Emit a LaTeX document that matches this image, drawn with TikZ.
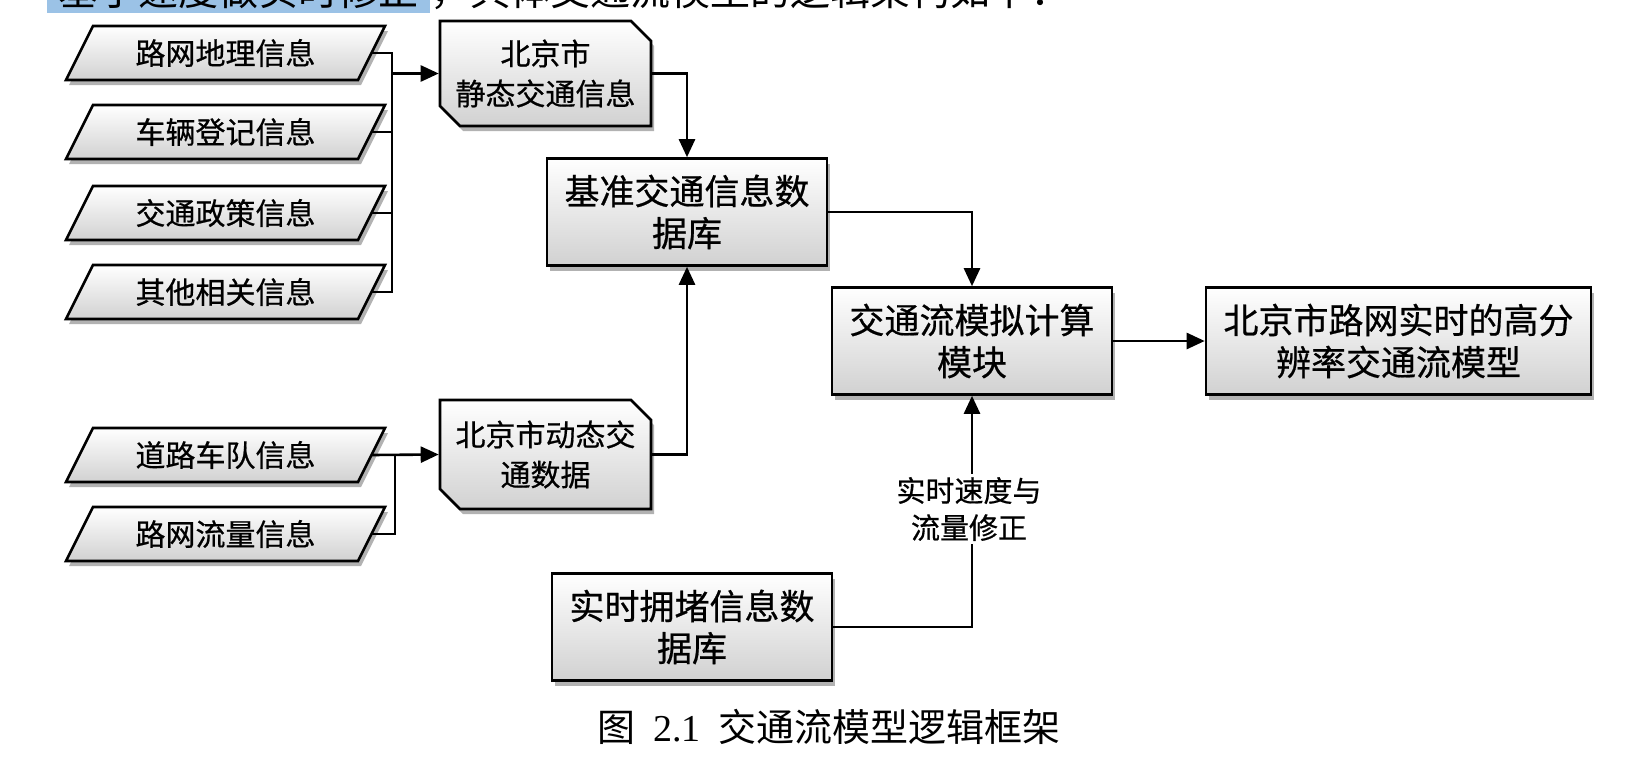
\documentclass[tikz,border=0pt]{standalone}
\usepackage{fontspec}
\newfontfamily\cjk{Noto Sans CJK SC}
\newfontfamily\cjkb[FakeBold=0.6]{Noto Sans CJK SC}
\newfontfamily\tnr{Liberation Serif}
\usetikzlibrary{arrows.meta,shadows,calc}
\definecolor{hl}{RGB}{155,194,230}
\tikzset{
  boxfill/.style={draw=black, line width=2.6pt, top color=white, bottom color=black!18,
    drop shadow={shadow xshift=3pt, shadow yshift=-5pt, opacity=0.3, fill=black}},
  txt/.style={font=\cjkb\fontsize{30}{40}\selectfont, align=center, inner sep=0pt, outer sep=1.3pt},
  bigbox/.style={boxfill, rectangle, font=\cjkb\fontsize{35}{42}\selectfont, align=center,
    inner sep=0pt, outer sep=1.3pt, minimum width=280pt, minimum height=107pt},
  conn/.style={line width=2.6pt, draw=black},
  arr/.style={conn, -{Triangle[length=18pt,width=16pt]}},
}
\newcommand\mypara[3]{%
  \path[boxfill] (66,#2+27) -- (93,#2-27) -- (385,#2-27) -- (358,#2+27) -- cycle;
  \node[txt] (#1) at (225.5,#2) {#3};
  \coordinate (#1e) at (371.5,#2);
}
\newcommand\mycard[6]{%
  \path[boxfill] (#2,#3) -- (#4-20,#3) -- (#4,#3+20) -- (#4,#5) -- (#2+20,#5) -- (#2,#5-20) -- cycle;
  \node[txt, minimum width={(#4-#2)*1pt}, minimum height={(#5-#3)*1pt}] (#1) at ({(#2+#4)/2},{(#3+#5)/2}) {#6};
}
\begin{document}
\begin{tikzpicture}[x=1pt,y=-1pt]
\useasboundingbox[fill=white] (0,0) rectangle (1652,777);

% cut-off line of body text at the top
\begin{scope}
\clip (0,0) rectangle (1652,777);
\node[fill=hl, inner sep=0pt, anchor=base west, font=\cjk\fontsize{40}{40}\selectfont,
  minimum width=383pt, text depth=8pt] (hltext) at (47,5) {基于速度做实时修正};
\node[anchor=base west, inner sep=0pt, font=\cjk\fontsize{40}{40}\selectfont] (intro)
  at (hltext.base east) {，具体交通流模型的逻辑架构如下：};
\end{scope}

% input parallelograms
\mypara{p1}{53}{路网地理信息}
\mypara{p2}{132}{车辆登记信息}
\mypara{p3}{213}{交通政策信息}
\mypara{p4}{292}{其他相关信息}
\mypara{p5}{455}{道路车队信息}
\mypara{p6}{534}{路网流量信息}

% cards
\mycard{c1}{440}{21}{651}{126}{北京市\\静态交通信息}
\mycard{c2}{440}{400}{651}{509}{北京市动态交\\通数据}

% boxes
\node[bigbox] (db) at (687,212) {基准交通信息数\\据库};
\node[bigbox] (sim) at (972,341) {交通流模拟计算\\模块};
\node[bigbox, minimum width=385pt] (out) at (1398.5,341) {北京市路网实时的高分\\辨率交通流模型};
\node[bigbox] (rt) at (692,627) {实时拥堵信息数\\据库};

% bracket 1
\coordinate (b1) at (392,53);
\draw[conn] (p1e) -- (b1) -- (b1 |- p4e) -- (p4e);
\draw[conn] (p2e) -- (p2e -| b1);
\draw[conn] (p3e) -- (p3e -| b1);
\draw[arr] (b1 |- c1.west) -- (c1.west);

% bracket 2
\coordinate (b2) at (395,455);
\draw[arr] (p5e) -- (c2.west);
\draw[conn] (p6e) -| (b2);

% flow
\draw[arr] (c1.east) -| (db.north);
\draw[arr] (c2.east) -| (db.south);
\draw[arr] (db.east) -| (sim.north);
\draw[arr] (sim.east) -- (out.west);
\draw[arr] (rt.east) -| (sim.south);
\node[font=\cjkb\fontsize{29}{37}\selectfont, fill=white, align=center, inner sep=3pt] (lab)
  at (969,509) {实时速度与\\流量修正};

% caption
\node[font=\cjk\fontsize{38}{38}\selectfont, inner sep=0pt] (cap) at (829,727)
  {图\hspace{18pt}{\tnr 2.1}\hspace{18pt}交通流模型逻辑框架};
\end{tikzpicture}
\end{document}
